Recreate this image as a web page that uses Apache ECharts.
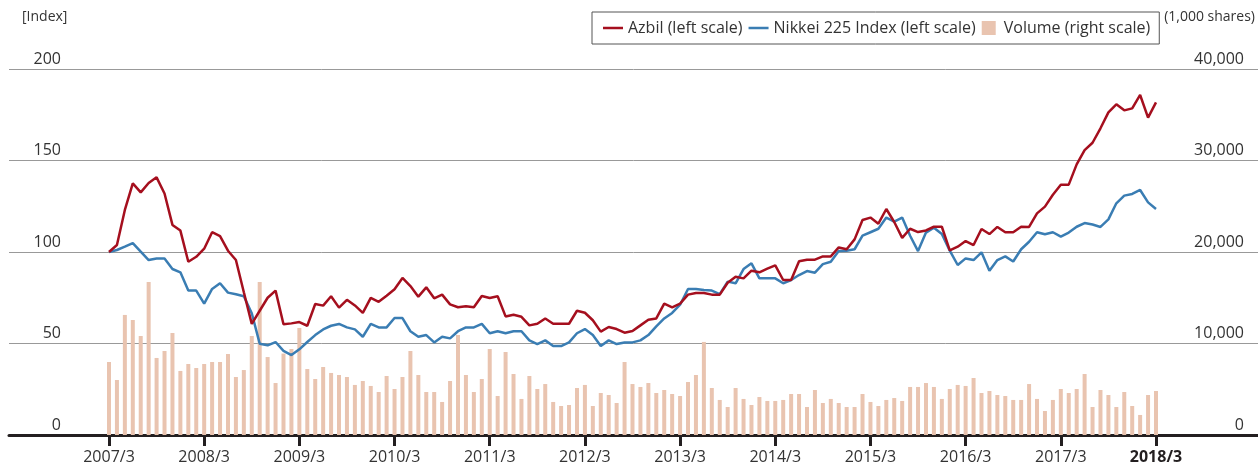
<!DOCTYPE html>
<html>
<head>
<meta charset="utf-8">
<script src="https://cdn.jsdelivr.net/npm/echarts@6/dist/echarts.min.js"></script>
<style>
  html, body { margin: 0; padding: 0; background: #fff; }
  #main { width: 1258px; height: 468px; }
</style>
</head>
<body>
<div id="main"></div>
<script>
// x tick labels, one per March
var tickLabels = ['2007/3', '2008/3', '2009/3', '2010/3', '2011/3', '2012/3',
  '2013/3', '2014/3', '2015/3', '2016/3', '2017/3', '2018/3'];

// monthly, 2007/3 .. 2018/3 (index, 2007/3 = 100)
var azbil = [
  100, 103.8, 123, 137.5, 132.6, 137.7, 140.8, 132, 114.8, 111.7,
  94.7, 97.4, 101.8, 110.8, 108.7, 100.7, 95.6, 78, 60.7, 67.9,
  75, 78.9, 60.5, 61, 61.7, 59.7, 71.6, 70.7, 75.8, 69.6,
  73.9, 70.8, 66.7, 74.9, 72.8, 76.1, 79.6, 85.8, 81.4, 75.6,
  80.7, 74.7, 76.7, 71.4, 69.8, 70.4, 69.8, 76, 74.9, 75.8,
  64.8, 65.7, 64.6, 59.9, 60.8, 63.7, 60.8, 60.8, 60.8, 67.9,
  66.8, 62.7, 56.5, 59, 57.9, 55.9, 56.8, 59.9, 63, 63.7,
  71.8, 69.8, 71.8, 76.7, 77.6, 77.6, 76.7, 76.7, 83.2, 86.5,
  85.6, 89.8, 88.9, 90.9, 92.7, 84.7, 84.7, 94.9, 95.8, 95.8,
  97.6, 97.6, 102.5, 101.5, 106.9, 117.5, 118.8, 115.5, 123.5, 116.4,
  107.7, 112.7, 110.9, 111.8, 113.8, 113.8, 100.9, 102.9, 106, 103.8,
  112.6, 109.8, 113.7, 110.8, 110.8, 113.8, 113.7, 121.1, 124.8, 131.3,
  136.8, 136.8, 147.9, 155.7, 159.7, 167.6, 176.3, 180.7, 177.4, 178.5,
  185.8, 173.4, 181.8
];

var nikkei = [
  100, 101.1, 102.9, 104.9, 100.2, 95.6, 96.5, 96.5, 90.7, 88.9,
  78.9, 78.9, 71.8, 79.8, 82.9, 77.8, 76.9, 75.8, 66.5, 49.9,
  49, 50.8, 46, 43.7, 46.8, 50.8, 54.6, 57.7, 59.7, 60.7,
  58.8, 57.7, 53.7, 60.7, 58.8, 58.8, 63.9, 63.9, 56.7, 53.7,
  54.6, 50.6, 53.7, 52.8, 56.7, 58.8, 58.8, 60.7, 55.6, 56.7,
  55.6, 56.7, 56.7, 51.7, 49.7, 51.7, 48.6, 48.6, 50.6, 55.6,
  57.9, 54.6, 48.6, 51.7, 49.7, 50.6, 50.6, 51.7, 54.6, 59.4,
  63.7, 66.7, 71.2, 79.8, 79.8, 79.2, 78.9, 77, 83.8, 82.9,
  90.7, 93.8, 85.6, 85.6, 85.6, 82.9, 84.7, 87.4, 89.6, 88.7,
  93.4, 94.7, 100.6, 100.7, 101.5, 108.9, 110.8, 112.7, 118.8, 116.6,
  118.8, 108.9, 100.5, 110.6, 113.3, 109.8, 100.7, 92.9, 96.5, 95.6,
  99.8, 89.8, 95.6, 97.6, 94.8, 101.5, 105.6, 110.8, 109.7, 110.8,
  108.4, 110.6, 113.8, 115.8, 115, 113.7, 117.8, 126.6, 130.8, 131.7,
  133.9, 127.1, 123.5
];

// trading volume, 1,000 shares
var volume = [
  7980, 6010, 13120, 12570, 10820, 16720, 8420, 9180, 11150, 7000,
  7760, 7320, 7760, 7980, 7980, 8850, 6340, 7100, 10820, 16720,
  8520, 5680, 8900, 9400, 11700, 7210, 6120, 7430, 6780, 6560,
  6340, 5470, 5900, 5360, 4700, 6450, 5030, 6340, 9180, 6560,
  4700, 4700, 3610, 5900, 10930, 6560, 4700, 6120, 9400, 4260,
  9070, 6670, 3940, 6450, 5030, 5570, 3610, 3170, 3280, 5140,
  5470, 3170, 4590, 4370, 3500, 7980, 5570, 5250, 5680, 4590,
  4920, 4480, 4260, 5790, 6560, 10170, 5140, 3830, 3060, 5140,
  3940, 3280, 4150, 3720, 3720, 3830, 4480, 4480, 3060, 4920,
  3500, 3940, 3500, 3060, 3060, 4480, 3610, 3170, 3830, 4040,
  3720, 5250, 5250, 5680, 5250, 3940, 5030, 5470, 5360, 6230,
  4590, 4810, 4370, 4260, 3830, 3830, 5570, 3940, 2620, 3830,
  5030, 4590, 5030, 6670, 3060, 4920, 4370, 3060, 4700, 3170,
  2190, 4370, 4810
];

var tickIdx = tickLabels.map(function (t, i) { return i * 12; });
function pairs(arr) {
  return arr.map(function (v, i) { return [i, v]; });
}

var chart = echarts.init(document.getElementById('main'));
var font = '"Open Sans", "Noto Sans", sans-serif';

var option = {
  animation: false,
  textStyle: { fontFamily: font },
  grid: { left: 9, right: 0, top: 69, bottom: 33 },
  legend: {
    left: 592,
    top: 12,
    padding: [8, 9, 8, 11],
    borderColor: '#555',
    borderWidth: 1,
    itemWidth: 20,
    itemHeight: 14,
    itemGap: 6,
    textStyle: { fontSize: 16, color: '#333', fontFamily: font },
    data: [
      { name: 'Azbil (left scale)', icon: 'path://M0,0h20v2.5h-20z' },
      { name: 'Nikkei 225 Index (left scale)', icon: 'path://M0,0h20v2.5h-20z' },
      { name: 'Volume (right scale)', icon: 'path://M0,0h14v14h-14z' }
    ]
  },
  graphic: [
    { type: 'text', left: 22, top: 10, style: { text: '[Index]', fontSize: 14, fill: '#333', fontFamily: font } },
    { type: 'text', right: 3, top: 10, style: { text: '(1,000 shares)', fontSize: 14, fill: '#333', fontFamily: font } }
  ],
  xAxis: {
    type: 'value',
    min: -12.607,
    max: 144.86,
    splitLine: { show: false },
    axisLine: { show: true, onZero: false, lineStyle: { color: '#231f20', width: 3 } },
    axisTick: { show: true, customValues: tickIdx, length: 11, lineStyle: { color: '#231f20', width: 3 } },
    axisLabel: {
      customValues: tickIdx,
      margin: 14,
      fontSize: 16,
      color: '#333',
      formatter: function (v) {
        var t = tickLabels[Math.round(v / 12)];
        return v === tickIdx[tickIdx.length - 1] ? '{b|' + t + '}' : t;
      },
      rich: { b: { fontSize: 16, fontWeight: 'bold', color: '#231f20', fontFamily: font } }
    }
  },
  yAxis: [
    {
      type: 'value', position: 'left', min: 0, max: 200, interval: 50,
      axisLine: { show: false }, axisTick: { show: false },
      splitLine: { lineStyle: { color: '#999', width: 1 } },
      axisLabel: { margin: -52, align: 'right', verticalAlign: 'bottom', padding: [0, 0, 2, 0], fontSize: 16, color: '#333' }
    },
    {
      type: 'value', position: 'right', min: 0, max: 40000, interval: 10000,
      axisLine: { show: false }, axisTick: { show: false }, splitLine: { show: false },
      axisLabel: {
        margin: -14, align: 'right', verticalAlign: 'bottom', padding: [0, 0, 2, 0], fontSize: 16, color: '#333',
        formatter: function (v) { return v.toLocaleString('en-US'); }
      }
    }
  ],
  series: [
    {
      name: 'Volume (right scale)', type: 'bar', yAxisIndex: 1,
      barWidth: 4, itemStyle: { color: '#e9c4b0' },
      data: pairs(volume)
    },
    {
      name: 'Nikkei 225 Index (left scale)', type: 'line', yAxisIndex: 0,
      symbol: 'none', color: '#3a7db3', lineStyle: { width: 2.5, color: '#3a7db3' },
      data: pairs(nikkei)
    },
    {
      name: 'Azbil (left scale)', type: 'line', yAxisIndex: 0,
      symbol: 'none', color: '#a50f1e', lineStyle: { width: 2.5, color: '#a50f1e' },
      data: pairs(azbil)
    }
  ]
};

chart.setOption(option);
</script>
</body>
</html>
